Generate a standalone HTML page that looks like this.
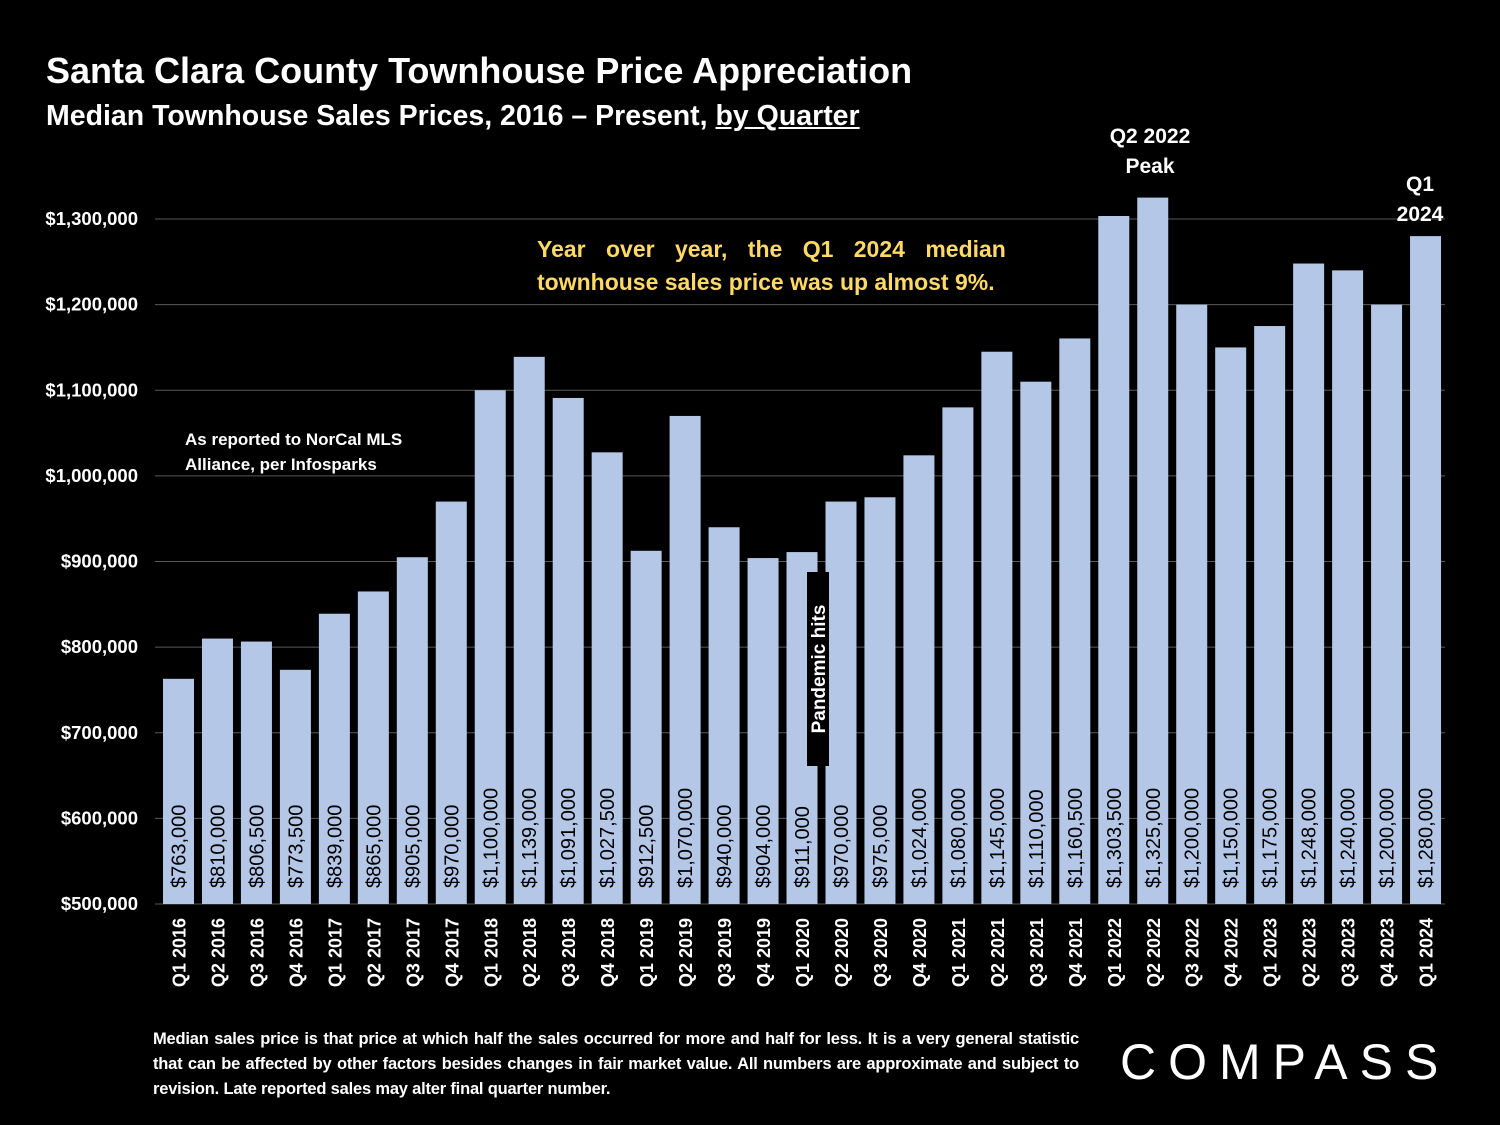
<!DOCTYPE html>
<html><head><meta charset="utf-8"><style>
body{margin:0;background:#000;}
#c{position:relative;width:1500px;height:1125px;background:#000;overflow:hidden;font-family:"Liberation Sans",sans-serif;color:#fff;}
.t{position:absolute;white-space:nowrap;}
</style></head><body>
<div id="c">
<div class="t" style="left:46px;top:50px;font-size:36px;font-weight:bold;">Santa Clara County Townhouse Price Appreciation</div>
<div class="t" style="left:46px;top:100px;font-size:28.5px;font-weight:bold;">Median Townhouse Sales Prices, 2016 – Present, <u>by Quarter</u></div>
<svg id="svg" width="1500" height="1125" style="position:absolute;left:0;top:0"></svg>
<div class="t" style="left:537px;top:233px;font-size:23px;font-weight:bold;color:#ffd966;line-height:33px;word-spacing:14px;">Year over year, the Q1 2024 median<br><span style="word-spacing:0">townhouse sales price was up almost 9%.</span></div>
<div class="t" style="left:185px;top:427px;font-size:17px;font-weight:bold;line-height:25px;">As reported to NorCal MLS<br>Alliance, per Infosparks</div>
<div class="t" style="left:1100px;top:122px;width:100px;text-align:center;font-size:21px;font-weight:bold;line-height:30px;">Q2 2022<br>Peak</div>
<div class="t" style="left:1380px;top:170px;width:80px;text-align:center;font-size:21px;font-weight:bold;line-height:30px;">Q1<br>2024</div>
<div class="t" style="left:153px;top:1027px;width:926px;font-size:16.5px;font-weight:bold;line-height:25px;text-align:justify;white-space:normal;letter-spacing:-0.2px;">Median sales price is that price at which half the sales occurred for more and half for less. It is a very general statistic that can be affected by other factors besides changes in fair market value. All numbers are approximate and subject to revision. Late reported sales may alter final quarter number.</div>
<div class="t" style="left:1120px;top:1033px;font-size:50px;letter-spacing:12px;">COMPASS</div>
</div>
<script>
const categories=["Q1 2016","Q2 2016","Q3 2016","Q4 2016","Q1 2017","Q2 2017","Q3 2017","Q4 2017","Q1 2018","Q2 2018","Q3 2018","Q4 2018","Q1 2019","Q2 2019","Q3 2019","Q4 2019","Q1 2020","Q2 2020","Q3 2020","Q4 2020","Q1 2021","Q2 2021","Q3 2021","Q4 2021","Q1 2022","Q2 2022","Q3 2022","Q4 2022","Q1 2023","Q2 2023","Q3 2023","Q4 2023","Q1 2024"];
const values=[763000,810000,806500,773500,839000,865000,905000,970000,1100000,1139000,1091000,1027500,912500,1070000,940000,904000,911000,970000,975000,1024000,1080000,1145000,1110000,1160500,1303500,1325000,1200000,1150000,1175000,1248000,1240000,1200000,1280000];
const yTicks=[500000,600000,700000,800000,900000,1000000,1100000,1200000,1300000];
const svg=document.getElementById('svg');const NS='http://www.w3.org/2000/svg';
const y=v=>904-(v-500000)*685/800000;
const x0=163,step=38.97,bw=31;
const x=i=>x0+i*step;
function mk(tag,attrs){const e=document.createElementNS(NS,tag);for(const k in attrs)e.setAttribute(k,attrs[k]);svg.appendChild(e);return e;}
const fmt=v=>'$'+v.toLocaleString('en-US');
yTicks.forEach(t=>{
 const g=mk('line',{x1:155,x2:1445,y1:y(t),y2:y(t),stroke:'#595959','stroke-width':1});
 
 
 const l=mk('text',{x:138,y:y(t)+6,'text-anchor':'end',fill:'#fff','font-size':18.5,'font-weight':'bold','font-family':'Liberation Sans'});
 l.textContent=fmt(t);
 
 
});
values.forEach((v,i)=>{
 const r=mk('rect',{x:x(i),y:y(v),width:bw,height:904-y(v),fill:'#b4c7e7'});
 
 
 const cx=x(i)+bw/2+7;
 const t=mk('text',{x:cx,y:888,transform:`rotate(-90 ${cx} 888)`,fill:'#000','font-size':20,'font-family':'Liberation Sans'});
 t.textContent=fmt(v);
 
 
 const xl=mk('text',{x:cx,y:918,transform:`rotate(-90 ${cx} 918)`,'text-anchor':'end',fill:'#fff','font-size':18,'font-weight':'bold','font-family':'Liberation Sans'});
 xl.textContent=categories[i];
 
 
});
const pb=mk('rect',{x:807,y:572,width:22,height:194,fill:'#000'});


const pt=mk('text',{x:825,y:669,transform:'rotate(-90 825 669)','text-anchor':'middle',fill:'#fff','font-size':19,'font-weight':'bold','font-family':'Liberation Sans'});
pt.textContent='Pandemic hits';


</script>
</body></html>
